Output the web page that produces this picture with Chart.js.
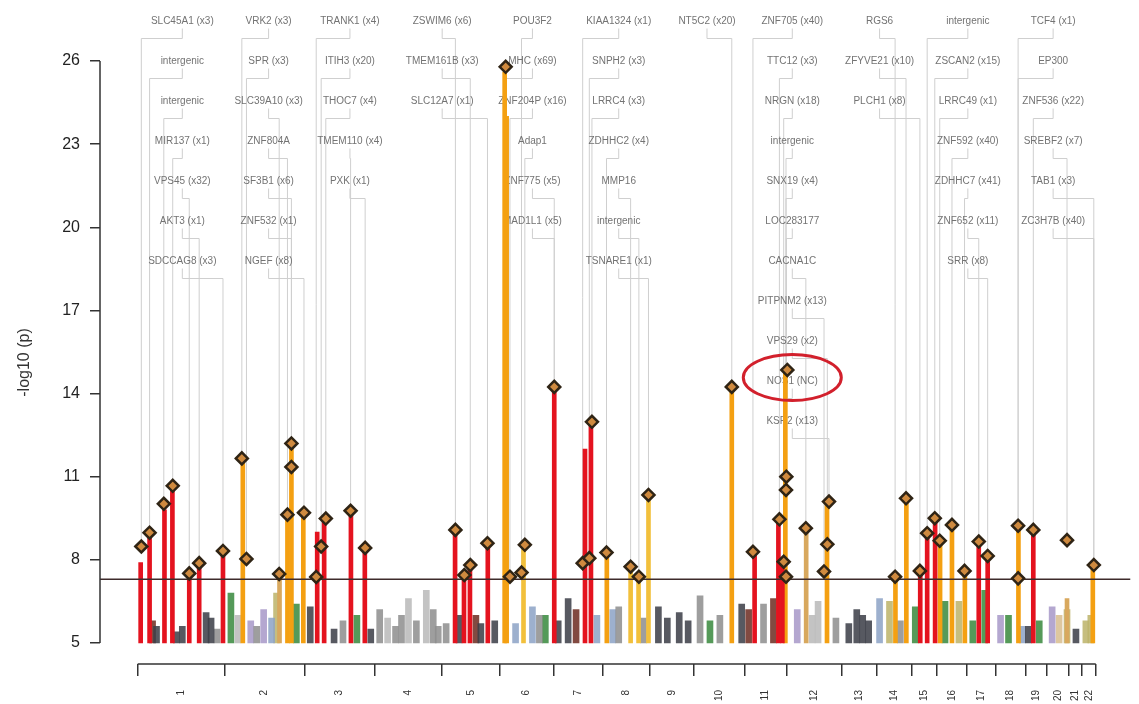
<!DOCTYPE html>
<html>
<head>
<meta charset="utf-8">
<title>Manhattan plot</title>
<script src="https://cdn.jsdelivr.net/npm/chart.js@4/dist/chart.umd.min.js"></script>
<style>
  html, body { margin: 0; padding: 0; background: #fff; }
  #wrap { width: 1139px; height: 704px; }
</style>
</head>
<body>
<div id="wrap"><canvas id="manhattan" width="1139" height="704"></canvas></div>
<script>
// chromosomes (length in Mb as laid out on the axis)
const chrNames = ["1","2","3","4","5","6","7","8","9","10","11","12","13","14","15","16","17","18","19","20","21","22"];
const chrLen = [264, 240, 213, 204, 174, 162, 150, 141, 135, 153, 126, 168, 105, 105, 78, 90, 87, 90, 66, 66, 39, 42];

const yTicks = [5, 8, 11, 14, 17, 20, 23, 26];
const threshold = 7.3;

// significant loci: dense SNP columns (genome position Mb, top -log10 p, class)
const sigPos = [9, 36, 81, 105, 156, 186, 258, 318, 429, 453, 465, 501, 543, 564, 645, 687, 960, 987, 1005, 1059,
  1110, 1116, 1167, 1260, 1353, 1371, 1419, 1491, 1515, 1545, 1797, 1866, 1938, 1950, 1959, 2022, 2085, 2292, 2325,
  2367, 2388, 2412, 2427, 2463, 2502, 2544, 2571, 2664, 2709, 2811, 2889];
const sigTop = [7.9, 9.0, 9.8, 10.6, 7.5, 7.9, 8.3, 11.6, 7.5, 9.6, 12.2, 9.7, 9.0, 9.4, 9.7, 8.4, 9.0, 7.4, 7.8, 8.6,
  25.6, 24.0, 8.5, 14.2, 12.0, 12.9, 8.2, 7.7, 7.4, 10.3, 14.2, 8.3, 9.4, 7.9, 14.8, 9.1, 10.1, 7.4, 10.2,
  7.6, 8.9, 9.5, 8.6, 9.2, 7.6, 8.6, 8.1, 9.2, 9.0, 6.6, 7.8];
const sigClass = ["red","red","red","red","red","red","red","orange","tan","orange","orange","orange","red","red","red","red","red","red","red","red",
  "orange","orange","yellow","red","red","red","orange","yellow","yellow","yellow","orange","red","red","red","orange","tan","orange","orange","orange",
  "red","red","red","orange","orange","orange","red","red","orange","red","tan","orange"];

// sub-threshold SNP clusters
const bgPos = [45, 57, 117, 135, 207, 222, 240, 282, 303, 342, 360, 381, 405, 420, 480, 522, 594, 621, 663, 705,
  732, 756, 780, 798, 819, 843, 873, 894, 909, 933, 972, 1023, 1038, 1080, 1143, 1194, 1215, 1233, 1272, 1302,
  1326, 1389, 1437, 1455, 1530, 1575, 1602, 1638, 1665, 1701, 1731, 1761, 1827, 1848, 1893, 1923, 1995, 2040, 2058, 2112,
  2151, 2175, 2193, 2211, 2244, 2274, 2307, 2352, 2442, 2484, 2526, 2562, 2610, 2634, 2676, 2694, 2727, 2766, 2787, 2811,
  2838, 2868, 2883];
const bgTop = [5.8, 5.6, 5.4, 5.6, 6.1, 5.9, 5.5, 6.8, 6.0, 5.8, 5.6, 6.2, 5.9, 6.8, 6.4, 6.3, 5.5, 5.8, 6.0, 5.5,
  6.2, 5.9, 5.6, 6.0, 6.6, 5.8, 6.9, 6.2, 5.6, 5.7, 6.0, 6.0, 5.7, 5.8, 5.7, 6.3, 6.0, 6.0, 5.8, 6.6,
  6.2, 6.0, 6.2, 6.3, 5.9, 6.3, 5.9, 6.1, 5.8, 6.7, 5.8, 6.0, 6.4, 6.2, 6.4, 6.6, 6.2, 6.0, 6.5, 5.9,
  5.7, 6.2, 6.0, 5.8, 6.6, 6.5, 5.8, 6.3, 6.5, 6.5, 5.8, 6.9, 6.0, 6.0, 5.6, 5.6, 5.8, 6.3, 6.0, 6.2,
  5.5, 5.8, 6.0];
const bgClass = ["brown","dark","dark","dark","dark","dark","grey","green","light","purple","grey","purple","blue","khaki","green","dark","dark","grey","green","dark",
  "grey","light","grey","grey","light","grey","light","grey","grey","grey","dark","brown","dark","dark","blue","blue","grey","green","dark","dark",
  "brown","blue","blue","grey","grey","dark","dark","dark","dark","grey","green","grey","dark","brown","grey","brown","purple","light","light","grey",
  "dark","dark","dark","dark","blue","khaki","grey","green","green","khaki","green","green","purple","green","blue","dark","green","purple","sand","khaki",
  "dark","khaki","khaki"];

// lead SNPs (diamonds)
const leadPos = [11, 36, 79, 106, 156, 186, 258, 315, 329, 428, 453, 465, 465, 503, 540, 555, 569, 644, 688,
  961, 988, 1006, 1058, 1113, 1126, 1161, 1171, 1260, 1346, 1366, 1374, 1418, 1491, 1516, 1545,
  1797, 1861, 1941, 1954, 1961, 1961, 1962, 1965, 2021, 2076, 2086, 2091, 2291, 2324, 2366, 2388, 2411, 2426,
  2463, 2501, 2544, 2571, 2663, 2663, 2709, 2811, 2892];
const leadP = [8.48, 8.98, 10.02, 10.67, 7.51, 7.88, 8.32, 11.66, 8.03, 7.49, 9.63, 11.35, 12.2, 9.70, 7.38, 8.48, 9.49, 9.77, 8.43,
  9.08, 7.45, 7.81, 8.6, 25.79, 7.39, 7.54, 8.54, 14.24, 7.88, 8.06, 12.98, 8.26, 7.75, 7.39, 10.34,
  14.24, 8.29, 9.46, 7.93, 7.39, 10.52, 11.0, 14.85, 9.14, 7.58, 8.56, 10.1, 7.39, 10.22, 7.6, 8.96, 9.5, 8.69,
  9.26, 7.6, 8.66, 8.14, 9.23, 7.33, 9.08, 8.71, 7.81];

// gene label columns, their names and the lead SNP each one points to
const labelPos = [135, 396, 642, 921, 1194, 1455, 1722, 1980, 2244, 2511, 2769];
const labelGenes = [
  ["SLC45A1 (x3)", "intergenic", "intergenic", "MIR137 (x1)", "VPS45 (x32)", "AKT3 (x1)", "SDCCAG8 (x3)"],
  ["VRK2 (x3)", "SPR (x3)", "SLC39A10 (x3)", "ZNF804A", "SF3B1 (x6)", "ZNF532 (x1)", "NGEF (x8)"],
  ["TRANK1 (x4)", "ITIH3 (x20)", "THOC7 (x4)", "TMEM110 (x4)", "PXK (x1)"],
  ["ZSWIM6 (x6)", "TMEM161B (x3)", "SLC12A7 (x1)"],
  ["POU3F2", "MHC (x69)", "ZNF204P (x16)", "Adap1", "ZNF775 (x5)", "MAD1L1 (x5)"],
  ["KIAA1324 (x1)", "SNPH2 (x3)", "LRRC4 (x3)", "ZDHHC2 (x4)", "MMP16", "intergenic", "TSNARE1 (x1)"],
  ["NT5C2 (x20)"],
  ["ZNF705 (x40)", "TTC12 (x3)", "NRGN (x18)", "intergenic", "SNX19 (x4)", "LOC283177", "CACNA1C", "PITPNM2 (x13)", "VPS29 (x2)", "NOS1 (NC)", "KSR2 (x13)"],
  ["RGS6", "ZFYVE21 (x10)", "PLCH1 (x8)"],
  ["intergenic", "ZSCAN2 (x15)", "LRRC49 (x1)", "ZNF592 (x40)", "ZDHHC7 (x41)", "ZNF652 (x11)", "SRR (x8)"],
  ["TCF4 (x1)", "EP300", "ZNF536 (x22)", "SREBF2 (x7)", "TAB1 (x3)", "ZC3H7B (x40)"]
];
const labelLead = [
  [0, 1, 2, 3, 4, 5, 6],
  [7, 8, 9, 10, 11, 12, 13],
  [14, 15, 16, 17, 18],
  [19, 21, 22],
  [25, 23, 24, 26, 27, 27],
  [28, 29, 30, 31, 32, 33, 34],
  [35],
  [36, 37, 38, 39, 40, 41, 43, 44, 45, 42, 46],
  [47, 48, 49],
  [50, 51, 52, 53, 54, 55, 56],
  [57, 58, 59, 60, 61, 61]
];
const highlight = "NOS1 (NC)";

const palette = {
  red: "#e4131f", orange: "#f4a012", yellow: "#f2c03c", tan: "#d8a85e",
  dark: "#3d4049", grey: "#8f8f8f", light: "#bababa", blue: "#8ea4c7", green: "#3b8a3f",
  khaki: "#bdb46b", purple: "#a99ac9", brown: "#6f2e24", sand: "#d9be90"
};

// axis geometry derived from chromosome lengths
const chrStart = [];
chrLen.reduce((acc, len) => { chrStart.push(acc); return acc + len; }, 0);
const genomeEnd = chrStart[chrStart.length - 1] + chrLen[chrLen.length - 1];
const chrMid = chrStart.map((s, i) => s + chrLen[i] / 2);
const chrBounds = chrStart.concat([genomeEnd]);
const xMin = -114, xMax = 3003;
const yMin = 4.24, yMax = 26;

const font = '"Liberation Sans", Arial, Helvetica, sans-serif';
Chart.defaults.font.family = font;

function barsFor(pos, top, cls, key) {
  const out = [];
  pos.forEach((p, i) => { if (cls[i] === key) out.push({ x: p, y: [5, top[i]] }); });
  return out;
}

const datasets = [];
["red", "orange", "yellow", "tan"].forEach(key => {
  datasets.push({
    type: "bar", data: barsFor(sigPos, sigTop, sigClass, key),
    backgroundColor: palette[key], barThickness: 4, grouped: false, order: 3
  });
});
Object.keys(palette).forEach(key => {
  const d = barsFor(bgPos, bgTop, bgClass, key);
  if (d.length) datasets.push({
    type: "bar", data: d, backgroundColor: palette[key] + "dd",
    barThickness: 6, grouped: false, order: 4
  });
});
datasets.push({
  type: "line", data: [{ x: xMin, y: threshold }, { x: xMax, y: threshold }],
  borderColor: "#3e2b2b", borderWidth: 1.6, pointRadius: 0, order: 1
});
datasets.push({
  type: "scatter", data: leadPos.map((p, i) => ({ x: p, y: leadP[i] })),
  pointStyle: "rectRot", pointRadius: 6, backgroundColor: "#cf8a3f",
  borderColor: "#2f2415", borderWidth: 2.5, clip: false, order: 0
});

const annotate = {
  id: "annotate",
  beforeDatasetsDraw(chart) {
    const { ctx, scales: { x, y } } = chart;
    const top = y.getPixelForValue(yMax);
    ctx.save();
    ctx.strokeStyle = "#cfcfcf";
    ctx.lineWidth = 1;
    labelGenes.forEach((genes, g) => {
      const lx = x.getPixelForValue(labelPos[g]);
      genes.forEach((name, r) => {
        const ly = top - 39.5 + r * 40;
        const k = labelLead[g][r];
        const tx = x.getPixelForValue(leadPos[k]);
        const ty = y.getPixelForValue(leadP[k]);
        ctx.beginPath();
        ctx.moveTo(lx, ly + 7);
        ctx.lineTo(lx, ly + 17);
        ctx.lineTo(tx, ly + 17);
        ctx.lineTo(tx, ty - 7);
        ctx.stroke();
      });
    });
    ctx.font = "10px " + font;
    ctx.textAlign = "center";
    ctx.textBaseline = "middle";
    ctx.fillStyle = "#737373";
    labelGenes.forEach((genes, g) => {
      const lx = x.getPixelForValue(labelPos[g]);
      genes.forEach((name, r) => ctx.fillText(name, lx, top - 39.5 + r * 40));
    });
    ctx.restore();
  },
  afterDatasetsDraw(chart) {
    const { ctx, chartArea, scales: { x, y } } = chart;
    const top = y.getPixelForValue(yMax);
    ctx.save();
    // axis lines (offset style)
    ctx.strokeStyle = "#333";
    ctx.lineWidth = 1.5;
    ctx.beginPath();
    ctx.moveTo(chartArea.left, y.getPixelForValue(yTicks[0]));
    ctx.lineTo(chartArea.left, y.getPixelForValue(yMax));
    ctx.moveTo(x.getPixelForValue(0), chartArea.bottom);
    ctx.lineTo(x.getPixelForValue(genomeEnd), chartArea.bottom);
    ctx.stroke();
    // ring round the highlighted gene
    labelGenes.forEach((genes, g) => {
      const r = genes.indexOf(highlight);
      if (r < 0) return;
      const lx = x.getPixelForValue(labelPos[g]);
      const ly = top - 39.5 + r * 40;
      ctx.strokeStyle = "#d2202c";
      ctx.lineWidth = 3;
      ctx.beginPath();
      ctx.ellipse(lx, ly - 4, 49, 23, 0, 0, Math.PI * 2);
      ctx.stroke();
    });
    ctx.restore();
  }
};

new Chart(document.getElementById("manhattan").getContext("2d"), {
  type: "bar",
  data: { datasets },
  options: {
    responsive: false,
    animation: false,
    events: [],
    layout: { padding: { top: 61, right: 0, left: 0, bottom: 0 } },
    plugins: { legend: { display: false }, tooltip: { enabled: false } },
    scales: {
      x: {
        type: "linear", position: "bottom", min: xMin, max: xMax, offset: false, weight: 0,
        afterBuildTicks: s => { s.ticks = chrBounds.map(v => ({ value: v })); },
        afterFit: s => { s.height = 14; },
        ticks: { display: false },
        grid: { offset: false, drawOnChartArea: false, tickLength: 12, color: "#333", lineWidth: 1.5 },
        border: { display: false }
      },
      x2: {
        type: "linear", position: "bottom", min: xMin, max: xMax, offset: false, weight: 1,
        afterBuildTicks: s => { s.ticks = chrMid.map(v => ({ value: v })); },
        afterFit: s => { s.height = 26; },
        ticks: {
          autoSkip: false, minRotation: 90, maxRotation: 90, padding: 12,
          font: { size: 10 }, color: "#333",
          callback: (v, i) => chrNames[i]
        },
        grid: { offset: false, display: false, drawTicks: false },
        border: { display: false }
      },
      y: {
        type: "linear", min: yMin, max: yMax,
        afterBuildTicks: s => { s.ticks = yTicks.map(v => ({ value: v })); },
        afterFit: s => { s.width = 100; },
        ticks: { font: { size: 16 }, color: "#222", padding: 10 },
        grid: { drawOnChartArea: false, tickLength: 10, color: "#333", lineWidth: 1.5 },
        border: { display: false },
        title: { display: true, text: "-log10 (p)", font: { size: 16 }, color: "#333", padding: { top: 15 } }
      }
    }
  },
  plugins: [annotate]
});
</script>
</body>
</html>
